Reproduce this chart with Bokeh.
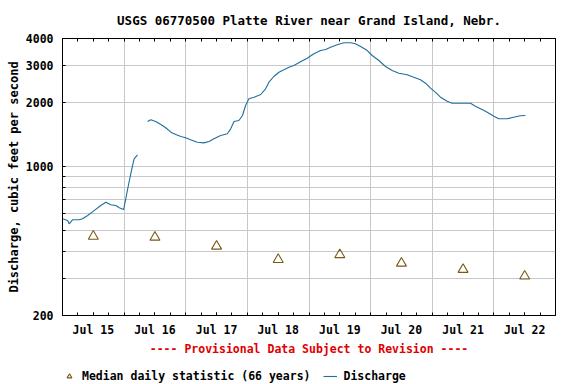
import math
import numpy as np
from bokeh.plotting import figure
from bokeh.layouts import column
from bokeh.models import (FixedTicker, LinearAxis, Title, Legend, LegendItem,
                          Range1d, PrintfTickFormatter)
from bokeh.embed import file_html
from bokeh.resources import INLINE

# ---------------- data ----------------
title_text = "USGS 06770500 Platte River near Grand Island, Nebr."
ylabel_text = "Discharge, cubic feet per second"
note_text = "---- Provisional Data Subject to Revision ----"
legend_labels = ["Median daily statistic (66 years)", "Discharge"]

day_labels = ["Jul 15", "Jul 16", "Jul 17", "Jul 18", "Jul 19", "Jul 20", "Jul 21", "Jul 22"]
day_noon_hours = [12, 36, 60, 84, 108, 132, 156, 180]

y_tick_values = [200, 1000, 2000, 3000, 4000]
y_grid_values = [300, 400, 500, 600, 700, 800, 900, 1000, 2000, 3000]

# median daily statistic (66 years), at noon of each day
median_hours = [12, 36, 60, 84, 108, 132, 156, 180]
median_cfs = [471, 466, 423, 366, 386, 352, 329, 306]

# discharge, hours since Jul 15 00:00 (two segments with a data gap)
q1_hours = [0, 2, 2.6, 3.9, 6.5, 7.8, 9.8, 12.3, 14.9, 16.9, 18.8, 20.8, 22.1,
            23.8, 24.0, 25.9, 27.3, 27.9, 29.2]
q1_cfs = [569, 559, 539, 563, 563, 569, 590, 622, 657, 681, 662, 657, 641,
          629, 645, 845, 1013, 1089, 1137]

q2_hours = [33.1, 34.4, 36.3, 38.3, 40.2, 42.2, 44.1, 46.1, 48.0, 49.9,
            52.5, 55.1, 57.1, 59.0, 61.6, 64.2, 65.5, 66.8, 68.7, 70.1,
            71.3, 72.6, 74.6, 77.2, 79.1, 80.4, 82.3, 84.3, 86.2, 88.2,
            90.1, 92.7, 95.3, 97.9, 100.5, 102.5, 104.4, 107.0, 109.6, 112.2,
            114.1, 116.1, 118.7, 120.6, 123.2, 125.8, 128.4, 131.0, 134.2, 136.8,
            139.4, 141.4, 143.3, 145.2, 147.2, 149.8, 151.7, 155.0, 158.9, 160.8,
            163.4, 165.4, 168.0, 169.9, 173.1, 175.7, 178.3, 180.3]
q2_cfs = [1630, 1660, 1630, 1578, 1523, 1452, 1416, 1386, 1367, 1338,
          1303, 1294, 1313, 1352, 1401, 1427, 1506, 1630, 1648, 1739,
          1938, 2083, 2120, 2183, 2321, 2494, 2652, 2778, 2851, 2932,
          2987, 3110, 3233, 3390, 3512, 3551, 3641, 3737, 3818, 3818,
          3777, 3669, 3512, 3328, 3153, 2955, 2830, 2748, 2702, 2632,
          2559, 2466, 2337, 2238, 2120, 2030, 1987, 1987, 1987, 1923,
          1856, 1802, 1726, 1678, 1678, 1708, 1734, 1739]

# ---------------- styling ----------------
FONT = "DejaVu Sans Mono"
LINE_COLOR = "#1f6f9c"
TRI_COLOR = "#7a5a14"
GRID_COLOR = "#c8c8c8"

p = figure(frame_width=493, frame_height=277,
           min_border_left=62, min_border_right=21,
           min_border_top=38, min_border_bottom=47,
           x_range=Range1d(0, 192), y_range=Range1d(200, 4000),
           y_axis_type="log", title=None,
           output_backend="svg", toolbar_location=None)
p.background_fill_color = "white"
p.border_fill_color = "white"
p.outline_line_color = "black"
p.outline_line_width = 1

# x axis
xa = p.xaxis[0]
xa.ticker = FixedTicker(ticks=day_noon_hours, minor_ticks=list(range(0, 193, 6)))
xa.major_label_overrides = {h: lab for h, lab in zip(day_noon_hours, day_labels)}
xa.major_tick_in = 3
xa.major_tick_out = 0
xa.minor_tick_in = 3
xa.minor_tick_out = 0
xa.major_label_standoff = 7
xa.major_label_text_font = FONT
xa.major_label_text_font_style = "bold"
xa.major_label_text_font_size = "11.5px"
xa.major_label_text_color = "black"
xa.axis_line_color = "black"

top = LinearAxis(ticker=FixedTicker(ticks=list(range(0, 193, 6)), minor_ticks=[]))
top.major_tick_in = 3
top.major_tick_out = 0
top.minor_tick_line_color = None
top.major_label_text_alpha = 0
top.major_label_text_font_size = "1px"
top.major_label_standoff = 0
top.axis_line_color = "black"
p.add_layout(top, "above")

# y axis
ya = p.yaxis[0]
ya.ticker = FixedTicker(ticks=y_tick_values, minor_ticks=y_grid_values)
ya.formatter = PrintfTickFormatter(format="%d")
ya.major_tick_in = 3
ya.major_tick_out = 0
ya.minor_tick_in = 3
ya.minor_tick_out = 0
ya.major_label_standoff = 9
ya.major_label_text_font = FONT
ya.major_label_text_font_style = "bold"
ya.major_label_text_font_size = "11.5px"
ya.major_label_text_color = "black"
ya.axis_line_color = "black"
ya.axis_label = ylabel_text
ya.axis_label_standoff = 2
ya.axis_label_text_font = FONT
ya.axis_label_text_font_style = "bold"
ya.axis_label_text_font_size = "12px"
ya.axis_label_text_color = "black"

# grids
p.xgrid.ticker = FixedTicker(ticks=[24 * i for i in range(1, 8)])
p.xgrid.grid_line_color = GRID_COLOR
p.ygrid.ticker = FixedTicker(ticks=y_grid_values)
p.ygrid.grid_line_color = GRID_COLOR

# data
q_hours = q1_hours + [31.0] + q2_hours
q_cfs = q1_cfs + [float("nan")] + q2_cfs
r_line = p.line(q_hours, q_cfs, line_color=LINE_COLOR, line_width=1.1)
r_tri = p.scatter(median_hours, median_cfs, marker="triangle", size=10,
                  fill_color=None, line_color=TRI_COLOR, line_width=1.1)

# titles
main_title = Title(text=title_text, align="center", offset=4, standoff=21,
                   text_font=FONT, text_font_style="bold", text_font_size="12.5px",
                   text_color="black")
p.add_layout(main_title, "above")

note = Title(text=note_text, align="center", offset=-1.5, standoff=0,
             text_font=FONT, text_font_style="bold", text_font_size="11.5px",
             text_color="#e00000")
p.add_layout(note, "below")

# ---------------- legend strip ----------------
nan = float("nan")
lg = figure(width=576, height=22, x_range=Range1d(0, 1), y_range=Range1d(0, 1),
            min_border=0, title=None, x_axis_location=None, y_axis_location=None,
            output_backend="svg", toolbar_location=None)
lg.grid.visible = False
lg.outline_line_color = None
lg.background_fill_color = "white"
lg.border_fill_color = "white"
lg_tri = lg.scatter(x=[nan], y=[nan], marker="triangle", size=10,
                    fill_color=None, line_color=TRI_COLOR, line_width=1.1)
lg_line = lg.line(x=[nan, nan], y=[nan, nan], line_color=LINE_COLOR, line_width=1.1)
legend = Legend(items=[LegendItem(label=legend_labels[0], renderers=[lg_tri]),
                       LegendItem(label=legend_labels[1], renderers=[lg_line])],
                location=(0, 1), orientation="horizontal",
                padding=0, margin=0, spacing=13, glyph_width=14, glyph_height=12,
                label_standoff=6, label_height=12,
                label_text_font=FONT, label_text_font_style="bold",
                label_text_font_size="11.5px", label_text_color="black",
                border_line_color=None, background_fill_alpha=0)
lg.add_layout(legend, "center")

layout = column(p, lg, spacing=0)
open("out.html", "w").write(file_html(layout, INLINE))
